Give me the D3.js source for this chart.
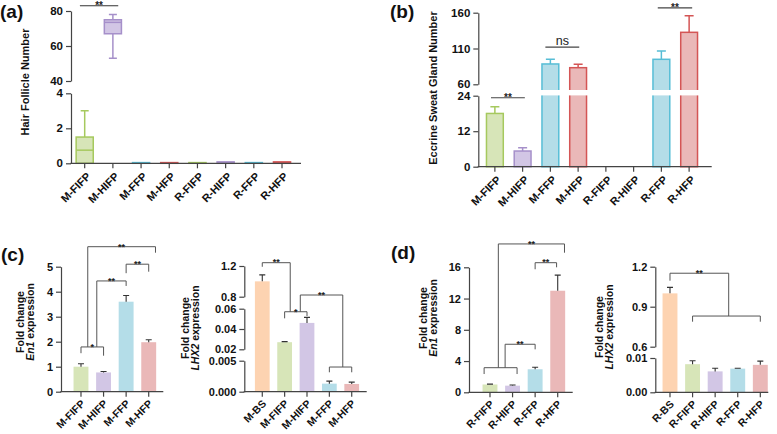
<!DOCTYPE html>
<html><head><meta charset="utf-8">
<script src="https://cdn.jsdelivr.net/npm/d3@7"></script>
<style>
body{margin:0;background:#fff}
svg{display:block}
</style></head><body>
<svg id="c" width="777" height="434"></svg>
<script>
// ---------------- DATA ----------------
// (a) Hair follicle number, box plots
const catsA = ["M-FIFP","M-HIFP","M-FFP","M-HFP","R-FIFP","R-HIFP","R-FFP","R-HFP"];
const minA = [0, 53, 0, 0, 0, 0, 0, 0];
const q1A  = [0, 67, 0, 0, 0, 0, 0, 0];
const medA = [0.75, 73.5, 0.02, 0.02, 0.02, 0.04, 0.02, 0.04];
const q3A  = [1.5, 75, 0.04, 0.04, 0.04, 0.08, 0.04, 0.08];
const maxA = [3, 78, 0.04, 0.04, 0.04, 0.08, 0.04, 0.08];
const ticksA = [[0,2,4],[40,60,80]];

// (b) Eccrine sweat gland number, mean + SD
const catsB = ["M-FIFP","M-HIFP","M-FFP","M-HFP","R-FIFP","R-HIFP","R-FFP","R-HFP"];
const meanB = [18, 5.3, 88.4, 83.2, 0, 0, 94.9, 132.6];
const sdB   = [2.3, 1.1, 6.5, 4.7, 0, 0, 11.6, 23.2];
const ticksB = [[0,12,24],[60,110,160]];

// (c) left: En1 expression (mouse)
const catsC1 = ["M-FIFP","M-HIFP","M-FFP","M-HFP"];
const valC1  = [1.0, 0.77, 3.6, 1.98];
const sdC1   = [0.12, 0.04, 0.25, 0.1];
const ticksC1 = [[0,1,2,3,4,5]];

// (c) right: LHX2 expression (mouse)
const catsC2 = ["M-BS","M-FIFP","M-HIFP","M-FFP","M-HFP"];
const valC2  = [1.0, 0.027, 0.046, 0.0013, 0.00125];
const sdC2   = [0.085, 0.0006, 0.0055, 0.0004, 0.0003];
const ticksC2 = [[0,0.005],[0.02,0.04,0.06],[0.8,1.2]];

// (d) left: En1 expression (rat)
const catsD1 = ["R-FIFP","R-HIFP","R-FFP","R-HFP"];
const valD1  = [1.0, 0.85, 2.95, 13.0];
const sdD1   = [0.05, 0.08, 0.25, 2.0];
const ticksD1 = [[0,4,8,12,16]];

// (d) right: LHX2 expression (rat)
const catsD2 = ["R-BS","R-FIFP","R-HIFP","R-FFP","R-HFP"];
const valD2  = [1.0, 0.0082, 0.0061, 0.0069, 0.0080];
const sdD2   = [0.045, 0.001, 0.0009, 0.0001, 0.0011];
const ticksD2 = [[0,0.01],[0.6,0.9,1.2]];

// significance annotations (x in category-index units, levels in data units)
const sigA = [{x1:-0.17, x2:1.19, y:83, label:"**"}];
const sigB = [
  {x1:-0.14, x2:1.08, y:23.3, label:"**"},
  {x1:1.82, x2:3.04, y:112, label:"ns"},
  {x1:5.87, x2:7.11, y:166.6, label:"**"}
];
const sigC1 = [
  {x1:0, x2:1, y:1.79, y1:1.54, y2:1.44, label:"*"},
  {x1:0.7, x2:2, y:4.43, y1:1.79, y2:4.23, label:"**"},
  {x1:2, x2:3, y:5.1, y1:4.74, y2:4.8, label:"**"},
  {x1:0.3, x2:3.3, y:5.8, y1:1.79, y2:5.56, label:"**"}
];
const sigC2 = [
  {x1:0, x2:1.25, y:1.243, y1:1.19, y2:0.057, label:"**"},
  {x1:1, x2:2, y:0.057, y1:0.0505, y2:0.0528, label:"*"},
  {x1:1.7, x2:3.6, y:0.822, y1:0.057, y2:0.00398, label:"**"},
  {x1:3, x2:4, y:0.00398, y1:0.00313, y2:0.00313, label:""}
];
const sigD1 = [
  {x1:-0.26, x2:1.2, y:3.15, y1:2.34, y2:2.34, label:""},
  {x1:0.67, x2:2, y:6.15, y1:3.15, y2:5.5, label:"**"},
  {x1:0.37, x2:3.3, y:18.99, y1:3.15, y2:17.87, label:"**"},
  {x1:2, x2:2.95, y:16.59, y1:15.75, y2:16.0, label:"**"}
];
const sigD2 = [
  {x1:0, x2:2.6, y:1.151, y1:1.095, y2:0.83, label:"**"},
  {x1:1, x2:4, y:0.83, y1:0.7875, y2:0.7875, label:""}
];

// ---------------- STYLE / LAYOUT ----------------
const FONT = '"Liberation Sans", Arial, Helvetica, sans-serif';
const AX = "#444";
const pal = {
  FIFP:{fill:"#d7e5b8", stroke:"#a6c95e"},
  HIFP:{fill:"#d2c6e5", stroke:"#a690ca"},
  FFP:{fill:"#b4dde8", stroke:"#57bdd6"},
  HFP:{fill:"#eab8b8", stroke:"#d45555"},
  BS:{fill:"#fdd3b1", stroke:"#f4b48a"}
};
const key = c => c.split("-")[1];
const svg = d3.select("#c").style("font-family", FONT);

function makePanel(cfg){
  const g = svg.append("g");
  const cats = cfg.cats;
  const band = d3.scaleBand().domain(cats).range(cfg.xr).paddingInner(0.34).paddingOuter(0.17);
  const segs = cfg.ticks.map((t,i)=>({domain:[t[0], t[t.length-1]], range:cfg.yr[i], ticks:t, fmt:cfg.fmt[i]}));
  const scales = segs.map(s=>d3.scaleLinear().domain(s.domain).range(s.range));
  const y = v => { for (let i=segs.length-1;i>=0;i--) if (v>=segs[i].domain[0]) return scales[i](v); return scales[0](v); };
  const cx = c => band(c)+band.bandwidth()/2;
  const xi = i => band(cats[0]) + band.bandwidth()/2 + i*band.step();
  const y0 = cfg.yr[0][0];
  return {g, cfg, cats, band, y, cx, xi, y0, segs, scales};
}

function drawAxes(P){
  const {g, cfg} = P;
  P.segs.forEach((s,i)=>{
    const ax = d3.axisLeft(P.scales[i]).tickValues(s.ticks).tickFormat(d3.format(s.fmt))
      .tickSize(5).tickSizeOuter(0).tickPadding(3);
    const ga = g.append("g").attr("transform",`translate(${cfg.yx},0)`).call(ax);
    ga.selectAll("path,line").attr("stroke",AX).attr("stroke-width",1.2);
    ga.selectAll("text").attr("font-family",FONT).attr("font-weight","bold")
      .attr("font-size",cfg.tfs).attr("fill","#111");
  });
  // x axis
  g.append("line").attr("x1",cfg.yx-0.6).attr("x2",cfg.xEnd).attr("y1",P.y0).attr("y2",P.y0)
    .attr("stroke",AX).attr("stroke-width",1.2);
  const xa = d3.axisBottom(P.band).tickSize(5).tickSizeOuter(0);
  const gx = g.append("g").attr("transform",`translate(0,${P.y0})`).call(xa);
  gx.select(".domain").remove();
  gx.selectAll("line").attr("stroke",AX).attr("stroke-width",1.2);
  gx.selectAll("text").attr("font-family",FONT).attr("font-weight","bold")
    .attr("font-size",cfg.xfs).attr("fill","#111")
    .attr("text-anchor","end").attr("x",0).attr("y",0).attr("dy","0.35em")
    .attr("transform",`translate(${cfg.xlo[0]},${cfg.xlo[1]}) rotate(-45)`);
  // y title
  const t = g.append("text").attr("transform",`translate(${cfg.title.x},${cfg.title.y}) rotate(-90)`)
    .attr("text-anchor","middle").attr("font-weight","bold").attr("font-size",cfg.title.fs).attr("fill","#111");
  cfg.title.lines.forEach((ln,k)=>{
    const ts = t.append("tspan").attr("x",0).attr("dy", k===0 ? 0 : cfg.title.lh);
    ln.forEach(part=>{
      ts.append("tspan").attr("font-style", part.i ? "italic" : "normal").text(part.t);
    });
  });
  // panel label
  if (cfg.label) svg.append("text").attr("x",cfg.label.x).attr("y",cfg.label.y)
    .attr("font-weight","bold").attr("font-size",19).attr("fill","#111").text(cfg.label.t);
}

function drawSig(P, sig, color, fs, lw){
  sig.forEach(s=>{
    const x1 = P.xi(s.x1), x2 = P.xi(s.x2), yy = P.y(s.y);
    const y1 = s.y1 !== undefined ? P.y(s.y1) : yy;
    const y2 = s.y2 !== undefined ? P.y(s.y2) : yy;
    P.g.append("path").attr("d",`M${x1},${y1}V${yy}H${x2}V${y2}`)
      .attr("fill","none").attr("stroke",color).attr("stroke-width",lw);
    if (s.label){
      const isNs = s.label === "ns";
      P.g.append("text").attr("x",(x1+x2)/2).attr("y", isNs ? yy-2.5 : yy+2.8)
        .attr("text-anchor","middle").attr("font-weight", isNs ? "normal" : "bold")
        .attr("font-size", isNs ? fs+2.5 : fs).attr("fill","#222").text(s.label);
    }
  });
}

function drawBars(P, vals, sds, outlined){
  const bw = P.band.bandwidth();
  P.cats.forEach((c,i)=>{
    const v = vals[i]; if (!(v>0)) return;
    const col = pal[key(c)];
    P.g.append("rect").attr("x",P.band(c)+(outlined?0.75:0)).attr("width",bw-(outlined?1.5:0))
      .attr("y",P.y(v)).attr("height",P.y0-P.y(v))
      .attr("fill",col.fill).attr("stroke",outlined?col.stroke:"none").attr("stroke-width",outlined?1.5:0);
  });
  P.cats.forEach((c,i)=>{
    const v = vals[i]; if (!(v>0) || !(sds[i]>0)) return;
    const col = outlined ? pal[key(c)].stroke : "#333";
    const x = P.cx(c), cw = outlined ? 4.5 : 3;
    const ya = P.y(v), yb = P.y(v+sds[i]);
    P.g.append("path").attr("d",`M${x},${ya}V${yb}M${x-cw},${yb}H${x+cw}`)
      .attr("fill","none").attr("stroke",col).attr("stroke-width",outlined?1.5:1.1);
  });
}

// ---------------- PANEL A ----------------
const PA = makePanel({cats:catsA, xr:[70.6,296.1], ticks:ticksA, yr:[[163.3,93.3],[81,11]], fmt:["d","d"]});
(function(){
  const bw = PA.band.bandwidth();
  catsA.forEach((c,i)=>{
    const col = pal[key(c)];
    const x = PA.cx(c), g = PA.g;
    if (maxA[i] > q3A[i]) {
      g.append("path").attr("d",`M${x},${PA.y(q3A[i])}V${PA.y(maxA[i])}M${x-4},${PA.y(maxA[i])}H${x+4}`)
        .attr("stroke",col.stroke).attr("stroke-width",1.5).attr("fill","none");
    }
    if (minA[i] < q1A[i]) {
      g.append("path").attr("d",`M${x},${PA.y(q1A[i])}V${PA.y(minA[i])}M${x-4},${PA.y(minA[i])}H${x+4}`)
        .attr("stroke",col.stroke).attr("stroke-width",1.5).attr("fill","none");
    }
    g.append("rect").attr("x",PA.band(c)+0.75).attr("width",bw-1.5)
      .attr("y",PA.y(q3A[i])).attr("height",PA.y(q1A[i])-PA.y(q3A[i]))
      .attr("fill",col.fill).attr("stroke",col.stroke).attr("stroke-width",1.5);
    g.append("line").attr("x1",PA.band(c)+0.75).attr("x2",PA.band(c)+bw-0.75)
      .attr("y1",PA.y(medA[i])).attr("y2",PA.y(medA[i])).attr("stroke",col.stroke).attr("stroke-width",1.5);
  });
})();
PA.cfg = {yx:71, xEnd:301, tfs:11.5, xfs:11, xlo:[4,11],
  title:{x:29, y:82, fs:11, lh:0, lines:[[{t:"Hair Follicle Number"}]]},
  label:{x:0, y:18, t:"(a)"}};
drawAxes(PA);
drawSig(PA, sigA, "#333", 10, 1.2);

// ---------------- PANEL B ----------------
const PB = makePanel({cats:catsB, xr:[481,703], ticks:ticksB, yr:[[166.7,95.7],[84.3,12.7]], fmt:["d","d"]});
drawBars(PB, meanB, sdB, true);
PB.g.append("rect").attr("x",480).attr("width",230).attr("y",90).attr("height",5.4).attr("fill","#fff");
PB.cfg = {yx:478.3, xEnd:711.7, tfs:11.5, xfs:11, xlo:[4,11],
  title:{x:437, y:88, fs:11, lh:0, lines:[[{t:"Eccrine Sweat Gland Number"}]]},
  label:{x:390, y:18, t:"(b)"}};
drawAxes(PB);
drawSig(PB, sigB, "#444", 10, 1.2);

// ---------------- PANEL C (left) ----------------
const PC1 = makePanel({cats:catsC1, xr:[69.7,160], ticks:ticksC1, yr:[[391.7,266.7]], fmt:["d"]});
drawBars(PC1, valC1, sdC1, false);
PC1.cfg = {yx:61, xEnd:163.3, tfs:11, xfs:10.5, xlo:[2,10],
  title:{x:24, y:322, fs:10.5, lh:"0.95em", lines:[[{t:"Fold change"}],[{t:"En1",i:true},{t:" expression"}]]},
  label:{x:1, y:261, t:"(c)"}};
drawAxes(PC1);
drawSig(PC1, sigC1, "#555", 9, 1);

// ---------------- PANEL C (right) ----------------
const PC2 = makePanel({cats:catsC2, xr:[251.1,362.9], ticks:ticksC2,
  yr:[[391.7,360.7],[349.3,308.7],[296.7,266]], fmt:[".3f",".2f",".1f"]});
drawBars(PC2, valC2, sdC2, false);
PC2.cfg = {yx:244.3, xEnd:366.7, tfs:11, xfs:10.5, xlo:[2,10],
  title:{x:189, y:328, fs:10.5, lh:"0.95em", lines:[[{t:"Fold change"}],[{t:"LHX2",i:true},{t:" expression"}]]}};
drawAxes(PC2);
drawSig(PC2, sigC2, "#555", 9, 1);

// ---------------- PANEL D (left) ----------------
const PD1 = makePanel({cats:catsD1, xr:[478.7,569], ticks:ticksD1, yr:[[392.3,267.3]], fmt:["d"]});
drawBars(PD1, valD1, sdD1, false);
PD1.cfg = {yx:469, xEnd:572.7, tfs:11, xfs:10.5, xlo:[2,10],
  title:{x:427, y:318, fs:10.5, lh:"0.95em", lines:[[{t:"Fold change"}],[{t:"En1",i:true},{t:" expression"}]]},
  label:{x:391, y:259, t:"(d)"}};
drawAxes(PD1);
drawSig(PD1, sigD1, "#555", 9, 1);

// ---------------- PANEL D (right) ----------------
const PD2 = makePanel({cats:catsD2, xr:[658.7,771.6], ticks:ticksD2,
  yr:[[392.3,358],[346.7,266.7]], fmt:[".2f",".1f"]});
drawBars(PD2, valD2, sdD2, false);
PD2.cfg = {yx:655.3, xEnd:768.3, tfs:11, xfs:10.5, xlo:[2,10],
  title:{x:603, y:327, fs:10.5, lh:"0.95em", lines:[[{t:"Fold change"}],[{t:"LHX2",i:true},{t:" expression"}]]}};
drawAxes(PD2);
drawSig(PD2, sigD2, "#555", 9, 1);
</script>
</body></html>
